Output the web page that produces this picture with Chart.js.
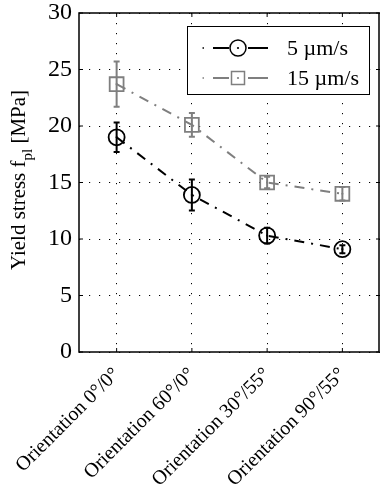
<!DOCTYPE html>
<html>
<head>
<meta charset="utf-8">
<script src="https://cdn.jsdelivr.net/npm/chart.js@4.4.1/dist/chart.umd.min.js"></script>
<style>
html,body{margin:0;padding:0;background:#fff;overflow:hidden;}
#wrap{width:380px;height:492px;position:relative;}
</style>
</head>
<body>
<div id="wrap"><canvas id="c" width="380" height="492"></canvas></div>
<script>
// ---- data ----
const categories = ['Orientation 0°/0°', 'Orientation 60°/0°', 'Orientation 30°/55°', 'Orientation 90°/55°'];
const slowLabel = '5 µm/s';
const slowValues = [19.0, 13.9, 10.3, 9.1];
const slowErrors = [1.3, 1.37, 0.7, 0.35];
const fastLabel = '15 µm/s';
const fastValues = [23.7, 20.1, 15.0, 14.0];
const fastErrors = [2.0, 1.05, 0.5, 0.6];
const yTicks = [0, 5, 10, 15, 20, 25, 30];

const BLACK = '#000000';
const GRAY = '#7f7f7f';
const SERIF = "'Liberation Serif', 'Times New Roman', Times, serif";

const errorsByDataset = [slowErrors, fastErrors];

const errorBarPlugin = {
  id: 'errorBars',
  afterDatasetsDraw(chart) {
    const ctx = chart.ctx;
    const ys = chart.scales.y;
    chart.data.datasets.forEach((ds, di) => {
      const meta = chart.getDatasetMeta(di);
      const errs = errorsByDataset[di];
      ctx.save();
      ctx.strokeStyle = ds.borderColor;
      ctx.fillStyle = ds.borderColor;
      ctx.lineWidth = 2;
      ctx.setLineDash([]);
      meta.data.forEach((pt, i) => {
        const v = ds.data[i];
        const yTop = ys.getPixelForValue(v + errs[i]);
        const yBot = ys.getPixelForValue(v - errs[i]);
        const x = pt.x;
        ctx.beginPath();
        ctx.moveTo(x, yTop); ctx.lineTo(x, yBot);
        ctx.moveTo(x - 3, yTop); ctx.lineTo(x + 3, yTop);
        ctx.moveTo(x - 3, yBot); ctx.lineTo(x + 3, yBot);
        ctx.stroke();
        ctx.beginPath();
        ctx.arc(x, pt.y, 1.1, 0, Math.PI * 2);
        ctx.fill();
      });
      ctx.restore();
    });
  }
};

const framePlugin = {
  id: 'frame',
  afterDraw(chart) {
    const ctx = chart.ctx;
    const a = chart.chartArea;
    const xs = chart.scales.x, ys = chart.scales.y;
    ctx.save();
    ctx.strokeStyle = '#000';
    ctx.lineWidth = 1.5;
    ctx.setLineDash([]);
    ctx.strokeRect(a.left, a.top, a.right - a.left - 1, a.bottom - a.top);
    ctx.lineWidth = 1;
    ctx.beginPath();
    xs.ticks.forEach((t, i) => {
      const x = xs.getPixelForTick(i);
      ctx.moveTo(x, a.bottom); ctx.lineTo(x, a.bottom - 4);
      ctx.moveTo(x, a.top); ctx.lineTo(x, a.top + 4);
    });
    ys.ticks.forEach((t) => {
      const y = ys.getPixelForValue(t.value);
      ctx.moveTo(a.left, y); ctx.lineTo(a.left + 4, y);
      ctx.moveTo(a.right, y); ctx.lineTo(a.right - 4, y);
    });
    ctx.stroke();

    // y-axis title with subscript
    ctx.translate(25, 180);
    ctx.rotate(-Math.PI / 2);
    ctx.fillStyle = '#000';
    ctx.textBaseline = 'alphabetic';
    const mainFont = '21px ' + SERIF;
    const subFont = '15px ' + SERIF;
    const p1 = 'Yield stress f', p2 = 'pl', p3 = ' [MPa]';
    ctx.font = mainFont; const w1 = ctx.measureText(p1).width; const w3 = ctx.measureText(p3).width;
    ctx.font = subFont; const w2 = ctx.measureText(p2).width;
    let x0 = -(w1 + w2 + w3) / 2;
    ctx.font = mainFont; ctx.fillText(p1, x0, 0);
    ctx.font = subFont; ctx.fillText(p2, x0 + w1, 7);
    ctx.font = mainFont; ctx.fillText(p3, x0 + w1 + w2, 0);
    ctx.restore();

    // legend
    ctx.save();
    const lx = 187, ly = 26, lw = 182, lh = 68;
    ctx.fillStyle = '#fff';
    ctx.fillRect(lx, ly, lw, lh);
    ctx.strokeStyle = '#000';
    ctx.lineWidth = 1;
    ctx.strokeRect(lx + 0.5, ly + 0.5, lw, lh);
    const rows = [
      {label: slowLabel, color: BLACK, y: 48, shape: 'circle'},
      {label: fastLabel, color: GRAY, y: 78, shape: 'rect'}
    ];
    rows.forEach(r => {
      ctx.strokeStyle = r.color;
      ctx.fillStyle = r.color;
      ctx.lineWidth = 2;
      ctx.fillRect(202.5, r.y - 0.75, 1.5, 1.5);
      ctx.beginPath();
      ctx.moveTo(213, r.y); ctx.lineTo(229, r.y);
      ctx.moveTo(248, r.y); ctx.lineTo(268, r.y);
      ctx.stroke();
      ctx.lineWidth = 1.5;
      ctx.beginPath();
      if (r.shape === 'circle') ctx.arc(238, r.y, 8, 0, Math.PI * 2);
      else ctx.rect(231.5, r.y - 6.5, 13, 13);
      ctx.stroke();
      ctx.beginPath(); ctx.arc(238, r.y, 1.1, 0, Math.PI * 2); ctx.fill();
      ctx.fillStyle = '#000';
      ctx.font = '22px ' + SERIF;
      ctx.textBaseline = 'middle';
      ctx.fillText(r.label, 287, r.y + 1);
    });
    ctx.restore();
  }
};

const dash = [10, 7, 2, 7];

function build() {
  new Chart(document.getElementById('c'), {
    type: 'line',
    data: {
      labels: categories,
      datasets: [
        {
          label: slowLabel,
          data: slowValues,
          borderColor: BLACK,
          borderWidth: 2,
          borderDash: dash,
          pointStyle: 'circle',
          pointRadius: 8,
          pointBorderWidth: 1.8,
          pointBorderColor: BLACK,
          pointBackgroundColor: 'rgba(0,0,0,0)',
          tension: 0,
          fill: false
        },
        {
          label: fastLabel,
          data: fastValues,
          borderColor: GRAY,
          borderWidth: 2,
          borderDash: dash,
          pointStyle: 'rect',
          pointRadius: 9.8,
          pointBorderWidth: 1.8,
          pointBorderColor: GRAY,
          pointBackgroundColor: 'rgba(0,0,0,0)',
          tension: 0,
          fill: false
        }
      ]
    },
    options: {
      responsive: false,
      animation: false,
      layout: { autoPadding: false, padding: { top: 13, right: 0, left: 0, bottom: 0 } },
      plugins: { legend: { display: false }, tooltip: { enabled: false } },
      scales: {
        x: {
          type: 'category',
          offset: true,
          afterFit(s) { s.height = 140; s.paddingLeft = 0; s.paddingRight = 0; },
          grid: { display: true, offset: false, color: '#000', lineWidth: 1, drawTicks: false },
          border: { display: false, dash: [1.2, 8.8] },
          ticks: {
            autoSkip: false, maxRotation: 45, minRotation: 45, padding: 11,
            color: '#000', font: { family: SERIF, size: 20 }
          }
        },
        y: {
          min: 0, max: 30,
          afterFit(s) { s.width = 79; s.paddingTop = 0; s.paddingBottom = 0; },
          afterBuildTicks(s) { s.ticks = yTicks.map(v => ({ value: v })); },
          grid: { display: true, color: '#000', lineWidth: 1, drawTicks: false },
          border: { display: false, dash: [1.2, 8.8] },
          ticks: { padding: 7, color: '#000', font: { family: SERIF, size: 24 } }
        }
      }
    },
    plugins: [errorBarPlugin, framePlugin]
  });
}

Promise.all([
  document.fonts.load("24px 'Liberation Serif'"),
  document.fonts.load("20px 'Liberation Serif'")
]).then(build, build);
</script>
</body>
</html>
